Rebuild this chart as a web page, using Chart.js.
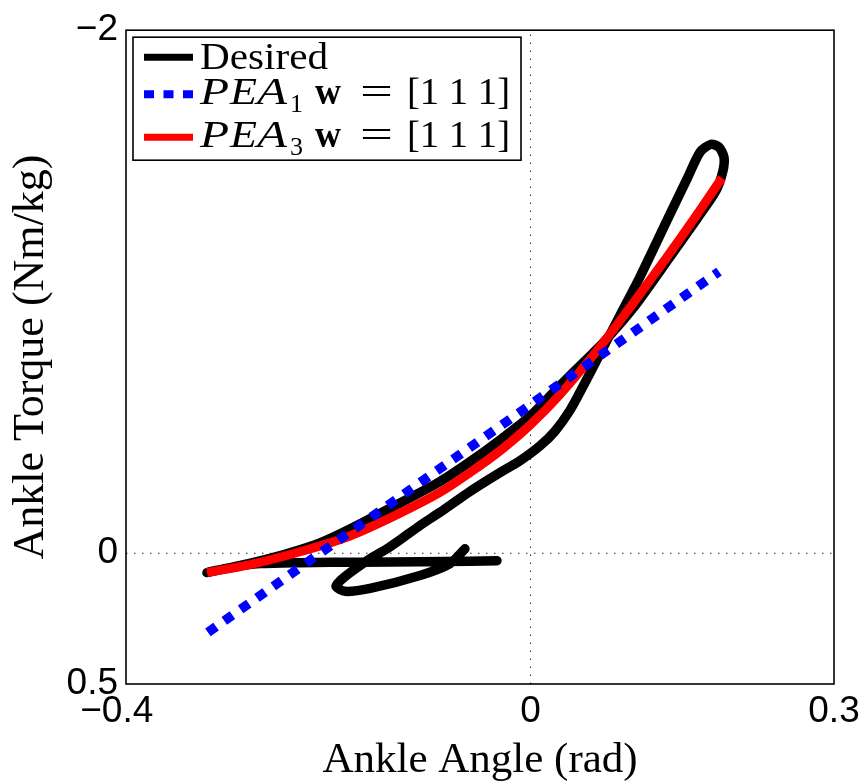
<!DOCTYPE html>
<html><head><meta charset="utf-8">
<script src="https://cdn.jsdelivr.net/npm/chart.js@4.4.0/dist/chart.umd.min.js"></script>
<style>html,body{margin:0;padding:0;background:#fff;}#wrap{width:867px;height:784px;position:relative;}</style>
</head><body><div id="wrap"><canvas id="c" width="867" height="784"></canvas></div>
<script>
// ---- data ----
const desiredX = [-0.0332,-0.0599,-0.1094,-0.1687,-0.2280,-0.2675,-0.2972,-0.3199,-0.2923,-0.2705,-0.2379,-0.2082,-0.1786,-0.1390,-0.0896,-0.0599,-0.0303,-0.0006,0.0291,0.0538,0.0716,0.1012,0.1378,0.1655,0.1833,0.1902,0.1912,0.1863,0.1784,0.1675,0.1547,0.1349,0.1082,0.0884,0.0686,0.0518,0.0390,0.0242,0.0093,-0.0105,-0.0303,-0.0599,-0.0896,-0.1094,-0.1291,-0.1419,-0.1587,-0.1834,-0.1924,-0.1834,-0.1587,-0.1094,-0.0797,-0.0649];
const desiredY = [0.0284,0.0303,0.0321,0.0340,0.0359,0.0397,0.0548,0.0738,0.0511,0.0321,-0.0019,-0.0397,-0.0927,-0.1721,-0.2742,-0.3498,-0.4331,-0.5238,-0.6410,-0.7356,-0.8037,-0.9361,-1.1328,-1.2841,-1.3862,-1.4618,-1.5148,-1.5526,-1.5640,-1.5336,-1.4315,-1.2727,-1.0571,-0.9096,-0.7621,-0.6373,-0.5466,-0.4671,-0.4104,-0.3537,-0.3083,-0.2364,-0.1566,-0.1059,-0.0511,-0.0170,0.0208,0.0889,0.1267,0.1456,0.1343,0.0851,0.0397,-0.0170];
const pea1X = [-0.3190, 0.1863];
const pea1Y = [0.3030, -1.0770];
const pea3X = [-0.3199,-0.2774,-0.2280,-0.1786,-0.1291,-0.0896,-0.0599,-0.0303,-0.0006,0.0291,0.0686,0.0983,0.1349,0.1626,0.1892];
const pea3Y = [0.0738,0.0435,-0.0057,-0.0662,-0.1532,-0.2326,-0.3082,-0.3914,-0.4898,-0.6070,-0.7886,-0.9399,-1.1328,-1.2841,-1.4353];
const xTickValues = [-0.4, 0, 0.3];
const yTickValues = [-2, 0, 0.5];
const xTitle = 'Ankle Angle (rad)';
const yTitle = 'Ankle Torque (Nm/kg)';
const legendNames = ['Desired', 'PEA', 'PEA'];
const legendSubs = ['', '1', '3'];
const legendTail = ['', '[1 1 1]', '[1 1 1]'];

function pts(xs, ys){ return xs.map((x,i)=>({x:x, y:ys[i]})); }
function fmtX(v){ return v < 0 ? '\u2212' + String(-v) + '\u2002' : String(v); }
function fmtY(v){ return v < 0 ? '\u2212' + String(-v) : String(v); }

const SERIF = '"Liberation Serif", "Times New Roman", serif';
const SANS = '"Liberation Sans", Arial, sans-serif';

function fitText(ctx, text, x, y, font, w){
  ctx.font = font;
  const m = ctx.measureText(text).width;
  ctx.save();
  ctx.translate(x, y);
  ctx.scale(w / m, 1);
  ctx.fillText(text, 0, 0);
  ctx.restore();
}

const framePlugin = {
  id: 'frame',
  beforeDatasetsDraw(chart){
    const {ctx, chartArea:a, scales} = chart;
    const x0 = scales.x.getPixelForValue(0), y0 = scales.y.getPixelForValue(0);
    ctx.save();
    ctx.strokeStyle = '#222'; ctx.lineWidth = 1; ctx.setLineDash([1.5, 6.5]);
    ctx.beginPath(); ctx.moveTo(x0, a.bottom); ctx.lineTo(x0, a.top); ctx.stroke();
    ctx.beginPath(); ctx.moveTo(a.left, y0); ctx.lineTo(a.right, y0); ctx.stroke();
    ctx.restore();
  },
  afterDatasetsDraw(chart){
    const {ctx, chartArea:a} = chart;
    ctx.save();
    ctx.strokeStyle = '#000'; ctx.lineWidth = 1.6;
    ctx.strokeRect(a.left, a.top, a.right - a.left, a.bottom - a.top);
    ctx.restore();
  },
  afterDraw(chart){
    const {ctx, chartArea:a} = chart;
    const L = a.left, T = a.top;
    ctx.save();
    ctx.fillStyle = '#fff';
    ctx.fillRect(L + 7, T + 7, 388, 123);
    ctx.strokeStyle = '#000'; ctx.lineWidth = 1.6;
    ctx.strokeRect(L + 7, T + 7, 388, 123);
    const lineY = [T + 27, T + 64, T + 107];
    const baseY = [T + 39, T + 74, T + 117];
    const ds = chart.data.datasets;
    for (let i = 0; i < 3; i++){
      ctx.save();
      ctx.strokeStyle = ds[i].borderColor;
      ctx.lineWidth = i === 1 ? 8 : 7;
      ctx.lineCap = 'butt';
      if (i === 1) ctx.setLineDash([10, 9.5]);
      ctx.beginPath(); ctx.moveTo(L + 18, lineY[i]); ctx.lineTo(L + 67, lineY[i]); ctx.stroke();
      ctx.restore();
    }
    ctx.fillStyle = '#000';
    ctx.textBaseline = 'alphabetic';
    fitText(ctx, legendNames[0], L + 74, baseY[0], '37px ' + SERIF, 128);
    for (let i = 1; i < 3; i++){
      const b = baseY[i];
      const it = 'italic 37px ' + SERIF;
      fitText(ctx, legendNames[i][0], L + 74, b, it, 29);
      fitText(ctx, legendNames[i][1], L + 104, b, it, 27);
      fitText(ctx, legendNames[i][2], L + 131, b, it, 30);
      fitText(ctx, legendSubs[i], L + 164, b + 8, '25px ' + SERIF, 13);
      fitText(ctx, 'w', L + 189, b, 'bold 37px ' + SERIF, 26);
      fitText(ctx, '=', L + 234, b, '37px ' + SERIF, 33);
      fitText(ctx, legendTail[i], L + 281, b, '37px ' + SERIF, 103);
    }
    ctx.restore();
  }
};

new Chart(document.getElementById('c'), {
  type: 'line',
  data: {
    datasets: [
      { label: 'Desired', data: pts(desiredX, desiredY), borderColor: '#000000', borderWidth: 9.5,
        tension: 0.25, borderCapStyle: 'round', borderJoinStyle: 'round', pointRadius: 0, fill: false, order: 3 },
      { label: 'PEA1 w = [1 1 1]', data: pts(pea1X, pea1Y), borderColor: '#0000ff', borderWidth: 9.5,
        borderDash: [10, 10], borderCapStyle: 'butt', tension: 0, pointRadius: 0, fill: false, order: 1 },
      { label: 'PEA3 w = [1 1 1]', data: pts(pea3X, pea3Y), borderColor: '#ff0000', borderWidth: 9,
        tension: 0.3, borderCapStyle: 'butt', borderJoinStyle: 'round', pointRadius: 0, fill: false, order: 2 }
    ]
  },
  options: {
    responsive: false, animation: false, devicePixelRatio: 1,
    layout: { padding: { left: 0, right: 33, top: 23, bottom: 0 } },
    plugins: { legend: { display: false }, tooltip: { enabled: false } },
    scales: {
      x: {
        type: 'linear', min: -0.4, max: 0.3,
        afterBuildTicks: s => { s.ticks = xTickValues.map(v => ({ value: v })); },
        afterFit: s => { s.height = 100; },
        ticks: { callback: v => fmtX(v), font: { family: SANS, size: 37 }, color: '#000', padding: 6, maxRotation: 0, autoSkip: false },
        grid: { display: false, drawTicks: false },
        border: { display: false },
        title: { display: true, text: xTitle, color: '#000', font: { family: SERIF, size: 43, lineHeight: 1.1 }, padding: { top: 0, bottom: 0 } }
      },
      y: {
        type: 'linear', reverse: true, min: -2, max: 0.5,
        afterBuildTicks: s => { s.ticks = yTickValues.map(v => ({ value: v })); },
        afterFit: s => { s.width = 126; },
        ticks: { callback: v => fmtY(v), font: { family: SANS, size: 37 }, color: '#000', padding: 8, autoSkip: false },
        grid: { display: false, drawTicks: false },
        border: { display: false },
        title: { display: true, text: yTitle, color: '#000', font: { family: SERIF, size: 44, lineHeight: 1.1 }, padding: { top: 7, bottom: 0 } }
      }
    }
  },
  plugins: [framePlugin]
});
</script></body></html>
